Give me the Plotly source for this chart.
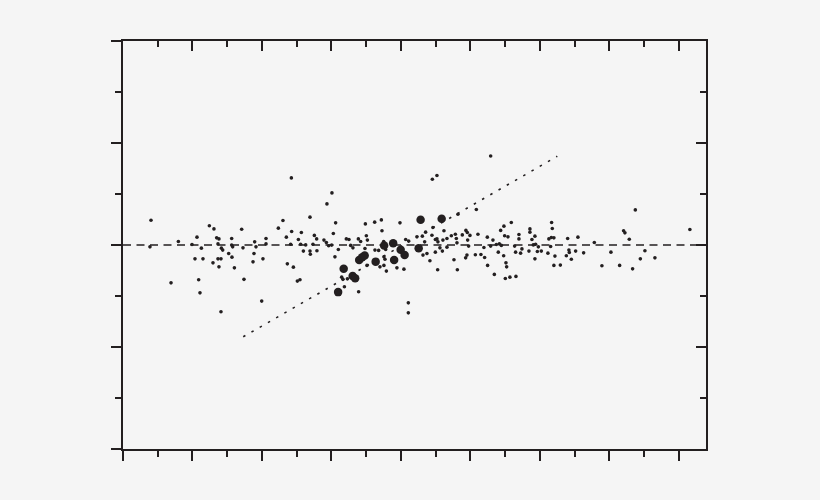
#!/usr/bin/env python3
"""Residual-style scatter: small points, a cluster of big points and a fitted trend."""
from __future__ import annotations

import plotly.graph_objects as go

INK = "#231f20"
BG = "#f5f5f5"

X_RANGE = [0.0, 8.39]
Y_RANGE = [-2.0, 2.0]

# small points (x, y)
small_x = [
    0.403, 0.388, 0.691, 0.797, 0.993, 1.065, 1.036, 1.089, 1.108, 1.128,
    1.151, 1.243, 1.309, 1.295, 1.348, 1.381, 1.367, 1.367, 1.410, 1.381,
    1.416, 1.435, 1.410, 1.521, 1.564, 1.564, 1.578, 1.568, 1.603, 1.708,
    1.727, 1.741, 1.895, 1.914, 1.885, 1.871, 2.014, 1.996, 2.058, 2.058,
    2.423, 3.007, 2.935, 2.302, 2.236, 2.427, 2.351, 2.567, 2.691, 2.524,
    2.413, 2.557, 2.629, 2.596, 2.691, 2.696, 2.754, 2.787, 2.734, 2.791,
    2.892, 2.927, 2.960, 3.003, 3.060, 3.027, 3.099, 3.050, 2.365, 2.452,
    2.509, 2.547, 3.214, 3.252, 3.276, 3.309, 3.387, 3.420, 3.488, 3.502,
    3.517, 3.482, 3.622, 3.718, 3.727, 3.751, 3.626, 3.679, 3.780, 3.755,
    3.770, 3.698, 3.755, 3.790, 3.986, 3.942, 4.043, 4.068, 4.111, 4.230,
    3.511, 3.401, 3.391, 3.147, 3.165, 3.186, 3.229, 4.106, 4.106,
    5.291, 4.452, 4.518, 4.820, 5.085, 4.308, 4.355, 4.341, 4.317, 4.374,
    4.417, 4.460, 4.446, 4.495, 4.518, 4.532, 4.495, 4.561, 4.596, 4.528,
    4.619, 4.604, 4.662, 4.662, 4.725, 4.783, 4.797, 4.806, 4.763, 4.812,
    4.883, 4.935, 4.955, 4.993, 4.960, 4.974, 4.950, 4.931, 5.108, 5.071,
    5.151, 5.204, 5.243, 5.194, 5.247, 5.291, 5.324, 5.373, 5.416, 5.445,
    5.401, 5.344, 5.435, 5.482, 5.588, 5.492, 5.540, 5.478, 5.511, 5.521,
    5.502, 5.568, 5.655, 5.636, 5.650, 5.698, 5.698, 5.722, 5.741, 5.856,
    5.856, 5.885, 5.928, 5.905, 5.938, 5.977, 5.842, 5.928, 5.963, 6.020,
    6.115, 6.129, 6.164, 6.201, 6.168, 6.178, 6.154, 6.216, 6.201, 6.294,
    6.399, 6.380, 6.417, 6.423, 6.452, 6.514, 6.547, 6.629, 6.783, 6.892,
    7.022, 7.147, 7.204, 7.223, 7.286, 7.334, 7.445, 7.511, 7.373, 7.655,
    8.158,
]
small_y = [
    0.243, -0.018, -0.371, 0.035, 0.005, 0.077, -0.136, -0.341, -0.469, -0.031,
    -0.136, 0.188, 0.158, -0.175, 0.070, 0.060, 0.011, -0.136, -0.136, -0.214,
    -0.031, -0.050, -0.655, -0.083, 0.064, -0.001, -0.018, -0.119, -0.224, 0.155,
    -0.028, -0.337, 0.031, -0.018, -0.083, -0.165, -0.136, -0.550, 0.064, 0.011,
    0.658, 0.511, 0.403, 0.240, 0.165, 0.133, 0.077, 0.123, 0.273, 0.054,
    0.008, 0.008, 0.001, -0.060, -0.060, -0.090, 0.094, 0.060, 0.008, -0.057,
    0.048, 0.025, -0.008, -0.001, 0.217, 0.113, -0.044, -0.116, -0.185, -0.217,
    -0.354, -0.341, 0.060, 0.054, -0.004, -0.028, 0.060, 0.035, 0.207, 0.090,
    0.048, -0.034, 0.224, 0.246, 0.139, 0.035, -0.050, -0.053, -0.044, -0.116,
    -0.139, -0.214, -0.200, -0.256, 0.217, -0.224, -0.237, 0.054, 0.038, 0.080,
    -0.200, -0.158, -0.459, -0.315, -0.337, -0.410, -0.332, -0.567, -0.665,
    0.873, 0.645, 0.681, 0.302, 0.348, 0.087, 0.126, 0.031, -0.099, -0.083,
    -0.155, 0.172, 0.096, 0.054, 0.060, 0.031, -0.070, -0.028, -0.060, -0.243,
    0.139, 0.048, 0.064, -0.021, 0.090, 0.106, 0.064, 0.021, -0.145, -0.243,
    0.099, 0.143, 0.123, 0.094, 0.048, -0.011, -0.099, -0.126, 0.106, -0.096,
    -0.093, -0.122, 0.077, -0.024, -0.200, -0.011, 0.048, 0.005, 0.011, -0.004,
    -0.070, -0.288, 0.143, 0.185, 0.221, 0.090, 0.080, -0.106, -0.175, -0.214,
    -0.328, -0.315, -0.308, -0.011, -0.070, 0.103, 0.060, -0.080, -0.038, 0.158,
    0.126, 0.054, 0.087, 0.001, 0.008, -0.018, -0.060, -0.136, -0.063, -0.060,
    -0.080, 0.060, 0.074, 0.070, 0.221, 0.162, -0.014, -0.109, -0.200, -0.197,
    0.064, -0.106, -0.050, -0.073, -0.139, -0.060, 0.077, -0.077, 0.025, -0.204,
    -0.070, -0.200, 0.139, 0.119, 0.057, -0.234, -0.136, -0.057, 0.344, -0.126,
    0.152,
]

# big points (x, y)
big_x = [
    3.096, 3.176, 3.305, 3.341, 3.399, 3.442, 3.478, 3.636,
    3.758, 3.888, 3.902, 3.996, 4.053, 4.255, 4.283, 4.586,
]
big_y = [
    -0.462, -0.232, -0.305, -0.325, -0.148, -0.119, -0.104, -0.163,
    -0.006, 0.018, -0.148, -0.046, -0.099, -0.031, 0.248, 0.258,
]

# fitted trend (end points)
fit_x = [1.73, 6.25]
fit_y = [-0.90, 0.87]

# strip the page margin so the 820x500 figure fills the window
PAGE_FIX = "document.body.style.margin='0';document.body.style.background='" + BG + "';"


def axis_style(side_ticks: str) -> dict:
    return dict(
        showline=True,
        linecolor=INK,
        linewidth=1.8,
        mirror=False,
        showgrid=False,
        zeroline=False,
        showticklabels=False,
        ticks=side_ticks,
        ticklen=10,
        tickwidth=1.8,
        tickcolor=INK,
        tick0=0,
        dtick=1,
        minor=dict(
            ticks=side_ticks, ticklen=6, tickwidth=1.5, tickcolor=INK,
            tick0=0, dtick=0.5,
        ),
        fixedrange=True,
    )


def build_figure() -> go.Figure:
    fig = go.Figure()

    fig.add_trace(
        go.Scatter(
            x=fit_x,
            y=fit_y,
            mode="lines",
            line={"color": INK, "width": 1.6, "dash": "2.5px,7px"},
            hoverinfo="skip",
        )
    )
    fig.add_trace(
        go.Scatter(
            x=small_x,
            y=small_y,
            mode="markers",
            marker={"color": INK, "size": 3.6, "line": {"width": 0}},
        )
    )
    fig.add_trace(
        go.Scatter(
            x=big_x,
            y=big_y,
            mode="markers",
            marker={"color": INK, "size": 8.5, "line": {"width": 0}},
        )
    )
    # empty trace so the mirrored top/right axes get drawn
    fig.add_trace(go.Scatter(x=[], y=[], xaxis="x2", yaxis="y2", hoverinfo="skip"))

    fig.add_shape(
        type="line",
        xref="x domain",
        x0=0,
        x1=1,
        yref="y",
        y0=0,
        y1=0,
        line={"color": INK, "width": 1.5, "dash": "8px,5.5px"},
        layer="below",
    )

    fig.update_layout(
        width=820,
        height=500,
        showlegend=False,
        paper_bgcolor=BG,
        plot_bgcolor=BG,
        margin={"l": 123, "r": 114, "t": 41, "b": 51},
        xaxis={**axis_style("outside"), "range": X_RANGE},
        yaxis={**axis_style("outside"), "range": Y_RANGE},
        xaxis2={
            **axis_style("inside"),
            "range": X_RANGE,
            "overlaying": "x",
            "side": "top",
            "anchor": "y",
        },
        yaxis2={
            **axis_style("inside"),
            "range": Y_RANGE,
            "overlaying": "y",
            "side": "right",
            "anchor": "x",
        },
    )
    return fig


def main() -> None:
    fig = build_figure()
    fig.write_html("out.html", config={"displayModeBar": False}, post_script=PAGE_FIX)


if __name__ == "__main__":
    main()
